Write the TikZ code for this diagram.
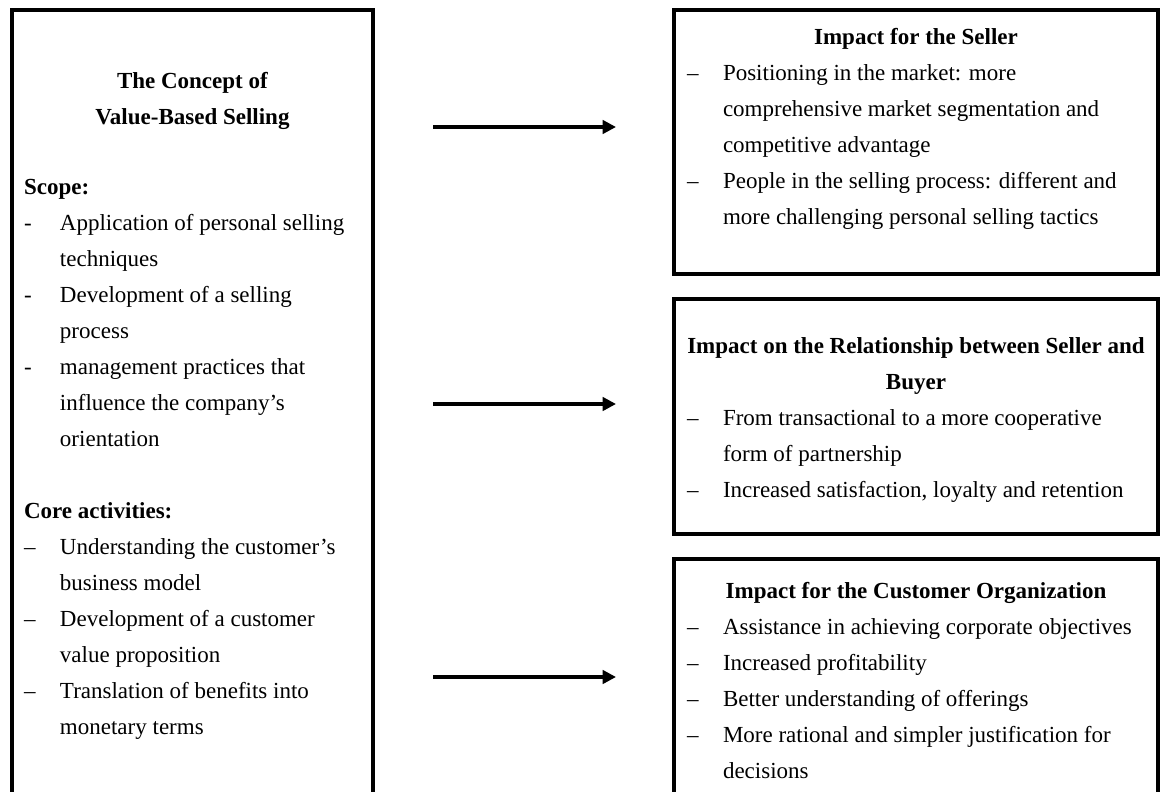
\documentclass[tikz,border=0pt]{standalone}
\usepackage{fontspec}
\setmainfont{Liberation Serif}
\usetikzlibrary{positioning,arrows.meta}
\newcommand{\bodyfont}{\fontsize{17.25pt}{27pt}\selectfont}

\begin{document}
\begin{tikzpicture}[%
      x=0.75pt, y=-0.75pt,
      box/.style={rectangle, draw=black, line width=2.3pt, inner sep=0pt, outer sep=0pt},
      txt/.style={inner sep=0pt, outer sep=0pt, font=\bodyfont},
      arrow/.style={-{Triangle[length=10pt,width=10pt]}, line width=3pt, black}
    ]
      \clip (0,0) rectangle (1161,792);
      % Boxes
      \node[box, minimum width=270.75pt, minimum height=592.5pt] (concept) at (192.5,405) {};
      \node[box, minimum width=363pt, minimum height=198pt] (seller) at (916,142) {};
      \node[box, minimum width=363pt, minimum height=176.25pt] (relation) at (916,416.5) {};
      \node[box, minimum width=363pt, minimum height=188.25pt] (customer) at (916,684.5) {};

      % Texts
      \node[txt, anchor=base] (conceptHead) at (192.5,89) {\begin{tabular}[t]{@{}c@{}}
        \textbf{The Concept of}\\ \textbf{Value-Based Selling}\end{tabular}};
      \node[txt, anchor=base west] (conceptList) at (24,195) {\begin{tabular}[t]{@{}p{27pt}@{}l@{}}
        \multicolumn{2}{@{}l@{}}{\textbf{Scope:}}\\
        - & Application of personal selling\\
          & techniques\\
        - & Development of a selling\\
          & process\\
        - & management practices that\\
          & influence the company’s\\
          & orientation\\
          & \\
        \multicolumn{2}{@{}l@{}}{\textbf{Core activities:}}\\
        – & Understanding the customer’s\\
          & business model\\
        – & Development of a customer\\
          & value proposition\\
        – & Translation of benefits into\\
          & monetary terms
      \end{tabular}};

      \node[txt, anchor=base] (sellerHead) at (916,45) {\textbf{Impact for the Seller}};
      \node[txt, anchor=base west] (sellerList) at (687,81) {\begin{tabular}[t]{@{}p{27pt}@{}l@{}}
        – & Positioning in the market: more\\
          & comprehensive market segmentation and\\
          & competitive advantage\\
        – & People in the selling process: different and\\
          & more challenging personal selling tactics
      \end{tabular}};

      \node[txt, anchor=base] (relationHead) at (916,353) {\begin{tabular}[t]{@{}c@{}}
        \textbf{Impact on the Relationship between Seller and}\\ \textbf{Buyer}\end{tabular}};
      \node[txt, anchor=base west] (relationList) at (687,425) {\begin{tabular}[t]{@{}p{27pt}@{}l@{}}
        – & From transactional to a more cooperative\\
          & form of partnership\\
        – & Increased satisfaction, loyalty and retention
      \end{tabular}};

      \node[txt, anchor=base] (customerHead) at (916,598) {\textbf{Impact for the Customer Organization}};
      \node[txt, anchor=base west] (customerList) at (687,634) {\begin{tabular}[t]{@{}p{27pt}@{}l@{}}
        – & Assistance in achieving corporate objectives\\
        – & Increased profitability\\
        – & Better understanding of offerings\\
        – & More rational and simpler justification for\\
          & decisions
      \end{tabular}};

      % Connections
      \coordinate (sellerFrom) at (433,127);
      \coordinate (sellerTo) at (616,127);
      \coordinate (relationFrom) at (433,404);
      \coordinate (relationTo) at (616,404);
      \coordinate (customerFrom) at (433,677);
      \coordinate (customerTo) at (616,677);
      \draw[arrow] (sellerFrom) -- (sellerTo);
      \draw[arrow] (relationFrom) -- (relationTo);
      \draw[arrow] (customerFrom) -- (customerTo);
    \end{tikzpicture}
\end{document}
